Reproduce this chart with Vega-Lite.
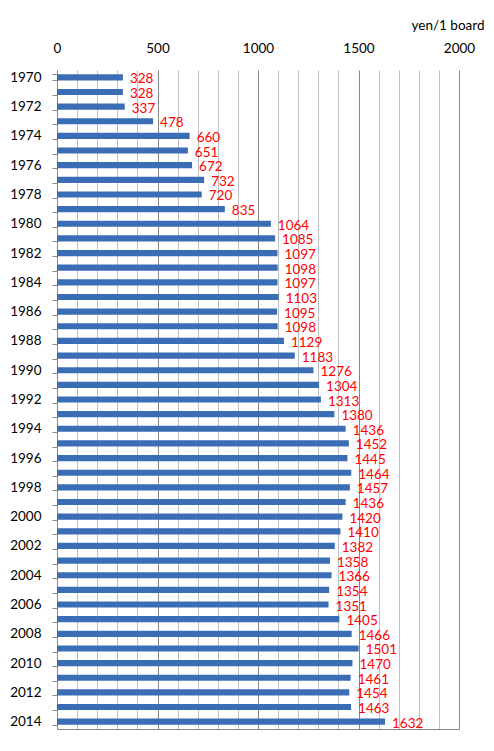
{
  "$schema": "https://vega.github.io/schema/vega-lite/v6.json",
  "width": 402,
  "height": 659,
  "autosize": {"type": "none"},
  "padding": {"left": 57, "top": 70, "right": 35, "bottom": 22},
  "background": "white",
  "config": {
    "view": {"stroke": null},
    "font": "Lato",
    "axis": {"labelFont": "Lato", "titleFont": "Lato"}
  },
  "data": {
    "values": [
      {"year": 1970, "price": 328}, {"year": 1971, "price": 328}, {"year": 1972, "price": 337},
      {"year": 1973, "price": 478}, {"year": 1974, "price": 660}, {"year": 1975, "price": 651},
      {"year": 1976, "price": 672}, {"year": 1977, "price": 732}, {"year": 1978, "price": 720},
      {"year": 1979, "price": 835}, {"year": 1980, "price": 1064}, {"year": 1981, "price": 1085},
      {"year": 1982, "price": 1097}, {"year": 1983, "price": 1098}, {"year": 1984, "price": 1097},
      {"year": 1985, "price": 1103}, {"year": 1986, "price": 1095}, {"year": 1987, "price": 1098},
      {"year": 1988, "price": 1129}, {"year": 1989, "price": 1183}, {"year": 1990, "price": 1276},
      {"year": 1991, "price": 1304}, {"year": 1992, "price": 1313}, {"year": 1993, "price": 1380},
      {"year": 1994, "price": 1436}, {"year": 1995, "price": 1452}, {"year": 1996, "price": 1445},
      {"year": 1997, "price": 1464}, {"year": 1998, "price": 1457}, {"year": 1999, "price": 1436},
      {"year": 2000, "price": 1420}, {"year": 2001, "price": 1410}, {"year": 2002, "price": 1382},
      {"year": 2003, "price": 1358}, {"year": 2004, "price": 1366}, {"year": 2005, "price": 1354},
      {"year": 2006, "price": 1351}, {"year": 2007, "price": 1405}, {"year": 2008, "price": 1466},
      {"year": 2009, "price": 1501}, {"year": 2010, "price": 1470}, {"year": 2011, "price": 1461},
      {"year": 2012, "price": 1454}, {"year": 2013, "price": 1463}, {"year": 2014, "price": 1632}
    ]
  },
  "encoding": {
    "y": {
      "field": "year",
      "type": "ordinal",
      "scale": {"paddingInner": 0.58, "paddingOuter": 0.29},
      "axis": {
        "orient": "left",
        "title": null,
        "labelExpr": "datum.value % 2 === 0 ? datum.label : ''",
        "tickBand": "extent",
        "tickSize": 5,
        "tickColor": "#868686",
        "domainColor": "#868686",
        "labelPadding": 11,
        "labelFontSize": 13.5,
        "labelColor": "#000000",
        "grid": false
      }
    }
  },
  "layer": [
    {
      "mark": {"type": "bar", "color": "#3B6DB4"},
      "encoding": {
        "x": {
          "field": "price",
          "type": "quantitative",
          "scale": {"domain": [0, 2000], "nice": false},
          "axis": {
            "orient": "top",
            "values": [0,100,200,300,400,500,600,700,800,900,1000,1100,1200,1300,1400,1500,1600,1700,1800,1900,2000],
            "labelExpr": "datum.value % 500 === 0 ? datum.label : ''",
            "format": "d",
            "ticks": false,
            "tickSize": 0,
            "domain": false,
            "labelPadding": 15,
            "labelFontSize": 13.5,
            "labelColor": "#000000",
            "labelFlush": false,
            "grid": true,
            "gridColor": {"condition": {"test": "datum.value % 500 === 0", "value": "#868686"}, "value": "#BFBFBF"},
            "gridWidth": 1,
            "title": "yen/1 board",
            "titleFontSize": 13.5,
            "titleFontWeight": "normal",
            "titleColor": "#000000",
            "titleAlign": "right",
            "titleBaseline": "middle",
            "titleX": 427,
            "titleY": -45
          }
        }
      }
    },
    {
      "mark": {"type": "text", "align": "left", "baseline": "middle", "dx": 7, "dy": 2, "color": "#FF0000", "fontSize": 13.5, "font": "Lato"},
      "encoding": {
        "x": {
          "field": "price",
          "type": "quantitative",
          "axis": {
            "orient": "bottom",
            "labels": false,
            "ticks": false,
            "grid": false,
            "domain": true,
            "domainColor": "#868686",
            "title": null
          }
        },
        "text": {"field": "price", "type": "quantitative"}
      }
    }
  ],
  "resolve": {"axis": {"x": "independent"}}
}
